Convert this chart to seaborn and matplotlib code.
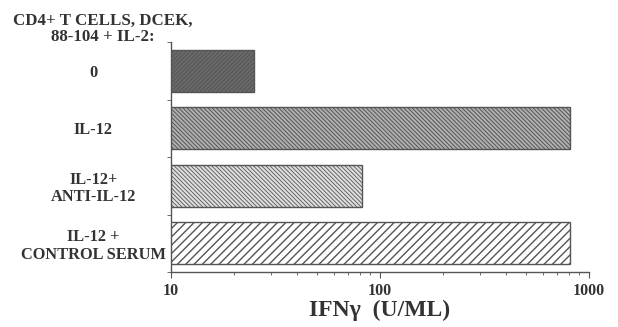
import matplotlib
matplotlib.use("Agg")
import matplotlib.pyplot as plt
import seaborn as sns
import pandas as pd
from matplotlib.ticker import FixedLocator, NullFormatter

categories = ["0", "IL-12", "IL-12+\nANTI-IL-12", "IL-12 +\nCONTROL SERUM"]
ifn_values = [25, 815, 82, 810]
x_ticks = [10, 100, 1000]
x_tick_labels = ["10", "100", "1000"]

sns.set_style("white")
plt.rcParams['font.family'] = ['Liberation Serif', 'DejaVu Serif']
plt.rcParams['font.weight'] = 'bold'
plt.rcParams['hatch.linewidth'] = 0.8

df = pd.DataFrame({"cond": categories, "ifn": ifn_values})

fig = plt.figure(figsize=(6.18, 3.27), dpi=100)
ax = fig.add_axes([171/618, 55/327, (589-171)/618, (272-42)/327])

sns.barplot(data=df, y="cond", x="ifn", orient="h", ax=ax, width=0.73,
            color="white", edgecolor="#555555", linewidth=1.0)
ax.set_xscale("log")
ax.set_xlim(10, 1000)
ax.set_ylim(3.5, -0.5)

styles = [
    dict(face="#6a6a6a", hatch="////////", hc="#2a2a2a", lw=0.7),
    dict(face="#b0b0b0", hatch="\\\\\\\\\\\\\\\\", hc="#4a4a4a", lw=0.7),
    dict(face="#dedede", hatch="\\\\\\\\\\\\\\\\", hc="#858585", lw=0.6),
    dict(face="white", hatch="////", hc="#333333", lw=1.0),
]
for patch, st in zip(ax.patches, styles):
    patch.set_facecolor(st["face"])
    patch.set_hatch(st["hatch"])
    patch._hatch_color = matplotlib.colors.to_rgba(st["hc"])
    try:
        patch.set_hatch_linewidth(st["lw"])
    except Exception:
        pass
    patch.set_edgecolor("#555555")

for s in ["top", "right"]:
    ax.spines[s].set_visible(False)
for s in ["left", "bottom"]:
    ax.spines[s].set_color("#555555")
    ax.spines[s].set_linewidth(1.0)

ax.set_xticks(x_ticks)
ax.set_xticklabels(x_tick_labels, fontsize=11.5, fontweight="bold", color="#333333")
ax.xaxis.set_minor_formatter(NullFormatter())
ax.tick_params(axis="x", which="major", direction="out", length=4, color="#555555", bottom=True, pad=4)
ax.tick_params(axis="x", which="minor", direction="out", length=2, color="#555555", bottom=True)

ax.set_yticks(range(len(categories)))
ax.set_yticklabels(categories, fontsize=11.8, fontweight="bold", color="#333333",
                   ha="center", multialignment="center", linespacing=1.12)
ax.tick_params(axis="y", which="major", length=0, pad=56)
ax.yaxis.set_minor_locator(FixedLocator([-0.5, 0.5, 1.5, 2.5, 3.5]))
ax.tick_params(axis="y", which="minor", direction="out", length=3, color="#555555", left=True)

ax.set_ylabel("")
ax.set_xlabel("IFN\u03b3  (U/ML)", fontsize=17, fontweight="bold", color="#333333", labelpad=0.5)

fig.text(103/618, 1 - 29/327, "CD4+ T CELLS, DCEK,\n88-104 + IL-2:", ha="center", va="center",
         fontsize=12.2, fontweight="bold", color="#333333", linespacing=1.08)

fig.savefig("out.png", dpi=100, facecolor="white")
